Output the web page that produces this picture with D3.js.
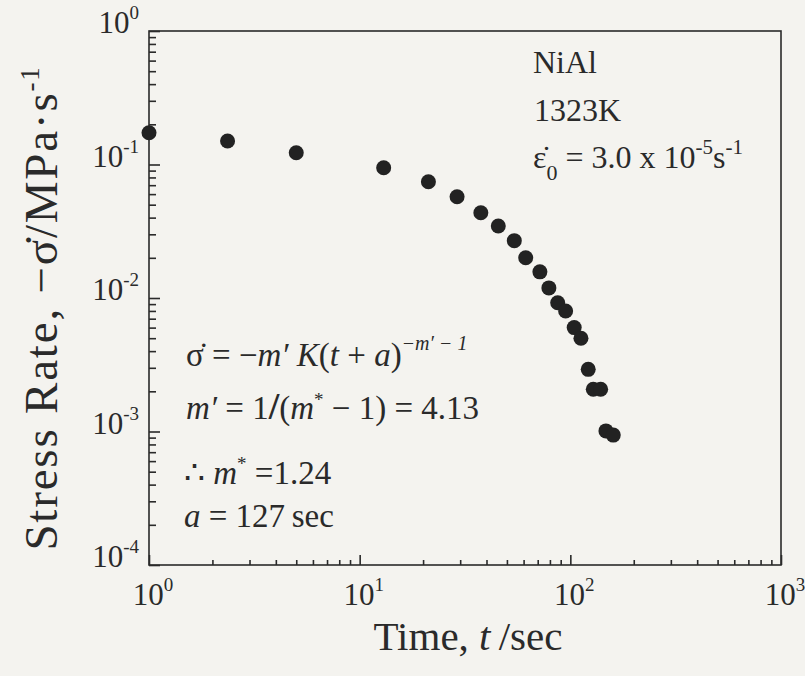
<!DOCTYPE html>
<html lang="en">
<head>
<meta charset="UTF-8">
<title>NiAl stress rate</title>
<script src="https://d3js.org/d3.v7.min.js"></script>
<style>
  html, body { margin: 0; padding: 0; background: #f4f3ef; }
  svg { display: block; }
  text { font-family: "Liberation Serif", "Times New Roman", serif; }
</style>
</head>
<body>
<svg id="chart" width="805" height="676"></svg>
<script>
// data (time in sec, -stress rate in MPa/s)
const timeSec = [1.0, 2.36, 5.0, 13.0, 21.2, 29.0, 37.6, 45.5, 54.2, 61.4, 71.7, 79.1,
                 87.1, 95.0, 104.3, 112.3, 121.6, 128.5, 139.3, 147.6, 159.9];
const stressRate = [0.173, 0.150, 0.1226, 0.0946, 0.0743, 0.0574, 0.0435, 0.0346, 0.0269,
                    0.0200, 0.0157, 0.0119, 0.00922, 0.0080, 0.0060, 0.00499, 0.00292,
                    0.00207, 0.00207, 0.00101, 0.00094];
const xTickExps = [0, 1, 2, 3];
const yTickExps = [0, -1, -2, -3, -4];

const ink = "#2a2a2a";
const svg = d3.select("#chart");

const pLeft = 149, pRight = 781, pTop = 31, pBottom = 565;
const x = d3.scaleLog().domain([1, 1000]).range([pLeft, pRight]);
const y = d3.scaleLog().domain([1e-4, 1]).range([pBottom, pTop]);

// minor + major tick values
function logTicks(e0, e1) {
  const out = [];
  for (let e = e0; e < e1; e++)
    for (let k = 2; k <= 9; k++) out.push(k * Math.pow(10, e));
  return out;
}
const xMinor = logTicks(0, 3);
const yMinor = logTicks(-4, 0);
const xMajor = xTickExps.map(e => Math.pow(10, e));
const yMajor = yTickExps.map(e => Math.pow(10, e));

// frame
svg.append("rect")
  .attr("x", pLeft).attr("y", pTop)
  .attr("width", pRight - pLeft).attr("height", pBottom - pTop)
  .attr("fill", "none").attr("stroke", ink).attr("stroke-width", 1.6);

// inward ticks on bottom and left only
function drawAxis(axis, g) {
  g.call(axis);
  g.select(".domain").remove();
  g.selectAll("line").attr("stroke", ink).attr("stroke-width", 1.6);
  g.selectAll("text").remove();
}
drawAxis(d3.axisBottom(x).tickValues(xMinor).tickSize(-5),
  svg.append("g").attr("transform", `translate(0,${pBottom})`));
drawAxis(d3.axisBottom(x).tickValues(xMajor).tickSize(-10),
  svg.append("g").attr("transform", `translate(0,${pBottom})`));
drawAxis(d3.axisLeft(y).tickValues(yMinor).tickSize(-7),
  svg.append("g").attr("transform", `translate(${pLeft},0)`));
drawAxis(d3.axisLeft(y).tickValues(yMajor).tickSize(-11),
  svg.append("g").attr("transform", `translate(${pLeft},0)`));

// tick labels 10^n
function powLabel(sel, e) {
  sel.append("tspan").text("10");
  sel.append("tspan").attr("dy", -14).attr("font-size", 19).text(e < 0 ? "-" + (-e) : e);
}
svg.append("g").selectAll("text").data(xTickExps).join("text")
  .attr("x", e => x(Math.pow(10, e)) + 4).attr("y", pBottom + 40)
  .attr("text-anchor", "middle").attr("font-size", 31).attr("fill", ink)
  .each(function (e) { powLabel(d3.select(this), e); });
svg.append("g").selectAll("text").data(yTickExps).join("text")
  .attr("x", 139).attr("y", e => y(Math.pow(10, e)) + 2)
  .attr("text-anchor", "end").attr("font-size", 31).attr("fill", ink)
  .each(function (e) { powLabel(d3.select(this), e); });

// data points
svg.append("g").selectAll("circle").data(timeSec).join("circle")
  .attr("cx", d => x(d)).attr("cy", (d, i) => y(stressRate[i]))
  .attr("r", 7.5).attr("fill", "#222");

// axis titles
const xt = svg.append("text").attr("x", 468).attr("y", 650)
  .attr("text-anchor", "middle").attr("font-size", 41).attr("fill", ink);
xt.append("tspan").text("Time, ");
xt.append("tspan").attr("font-style", "italic").text("t");
xt.append("tspan").text("\u2009/sec");

const yt = svg.append("text")
  .attr("transform", "translate(57,308) rotate(-90)")
  .attr("text-anchor", "middle").attr("font-size", 47)
  .attr("letter-spacing", 1.8).attr("fill", ink);
yt.append("tspan").text("Stress Rate, \u2212\u03c3\u0307/MPa\u00b7s");
yt.append("tspan").attr("dy", -18).attr("font-size", 27).text("-1");

// annotations, top right
const note = svg.append("g").attr("font-size", 32).attr("fill", ink);
note.append("text").attr("x", 533).attr("y", 73).text("NiAl");
note.append("text").attr("x", 534).attr("y", 121).text("1323K");
const eps = note.append("text").attr("x", 533).attr("y", 168);
eps.append("tspan").text("\u03b5\u0307");
eps.append("tspan").attr("dy", 12).attr("font-size", 22).text("0");
eps.append("tspan").attr("dy", -12).text(" = 3.0 x 10");
eps.append("tspan").attr("dy", -14).attr("font-size", 21).text("-5");
eps.append("tspan").attr("dy", 14).text("s");
eps.append("tspan").attr("dy", -14).attr("font-size", 21).text("-1");

// annotations, lower left
const eq = svg.append("g").attr("font-size", 33).attr("fill", ink);
const l1 = eq.append("text").attr("x", 186).attr("y", 366);
l1.append("tspan").text("\u03c3\u0307 = \u2212");
l1.append("tspan").attr("font-style", "italic").text("m\u2032 K");
l1.append("tspan").text("(");
l1.append("tspan").attr("font-style", "italic").text("t");
l1.append("tspan").text(" + ");
l1.append("tspan").attr("font-style", "italic").text("a");
l1.append("tspan").text(")");
l1.append("tspan").attr("dy", -16).attr("font-size", 20).attr("font-style", "italic")
  .text("\u2212m\u2032 \u2212 1");

const l2 = eq.append("text").attr("x", 186).attr("y", 419);
l2.append("tspan").attr("font-style", "italic").text("m\u2032");
l2.append("tspan").text(" = 1");
l2.append("tspan").attr("font-weight", "bold").attr("font-size", 38).text("/");
l2.append("tspan").text("(");
l2.append("tspan").attr("font-style", "italic").text("m");
l2.append("tspan").attr("dy", -13).attr("font-size", 19).text("*");
l2.append("tspan").attr("dy", 13).text(" \u2212 1) = 4.13");

const l3 = eq.append("text").attr("x", 184).attr("y", 484);
l3.append("tspan").text("\u2234 ");
l3.append("tspan").attr("font-style", "italic").text("m");
l3.append("tspan").attr("dy", -14).attr("font-size", 19).text("*");
l3.append("tspan").attr("dy", 14).text("  =1.24");

const l4 = eq.append("text").attr("x", 184).attr("y", 527);
l4.append("tspan").attr("font-style", "italic").text("a");
l4.append("tspan").text(" = 127\u2009sec");
</script>
</body>
</html>
